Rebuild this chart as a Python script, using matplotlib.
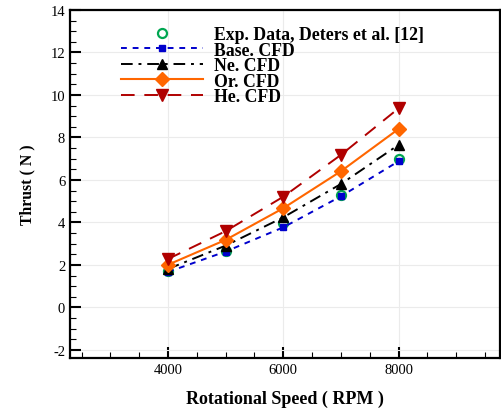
import numpy as np
import matplotlib
matplotlib.use('Agg')
import matplotlib.pyplot as plt
from matplotlib.ticker import MultipleLocator

rpm = [4000, 5000, 6000, 7000, 8000]
exp_data = [1.70, 2.65, 3.96, 5.31, 6.99]
base_cfd = [1.67, 2.63, 3.77, 5.23, 6.88]
ne_cfd = [1.81, 2.91, 4.24, 5.81, 7.65]
or_cfd = [2.01, 3.18, 4.67, 6.41, 8.40]
he_cfd = [2.28, 3.59, 5.21, 7.18, 9.37]

plt.rcParams['font.family'] = 'Liberation Serif'
plt.rcParams['axes.unicode_minus'] = False

fig = plt.figure(figsize=(5.01, 4.10), dpi=100)
ax = fig.add_axes([70/501, 51/410, 430/501, 348/410])

ax.plot(rpm, exp_data, 'o', color='#00a651', mfc='none', mew=1.6, ms=6.5,
        label='Exp. Data, Deters et al. [12]', zorder=3)
ax.plot(rpm, base_cfd, color='#0000cc', ls=(0, (3, 3)), lw=1.4, marker='s', ms=4,
        label='Base. CFD', zorder=4)
ax.plot(rpm, ne_cfd, color='black', ls=(0, (6, 3, 1.5, 3)), lw=1.4, marker='^', ms=7,
        label='Ne. CFD', zorder=4)
ax.plot(rpm, or_cfd, color='#ff6600', ls='-', lw=1.5, marker='D', ms=7,
        label='Or. CFD', zorder=4)
ax.plot(rpm, he_cfd, color='#b00000', ls=(0, (7, 5)), lw=1.4, marker='v', ms=8,
        label='He. CFD', zorder=4)

ax.set_xlim(2300, 9760)
ax.set_ylim(-2.38, 14)
ax.xaxis.set_major_locator(MultipleLocator(2000))
ax.xaxis.set_minor_locator(MultipleLocator(500))
ax.yaxis.set_major_locator(MultipleLocator(2))
ax.yaxis.set_minor_locator(MultipleLocator(0.5))
ax.grid(True, which='major', color='#ebebeb', lw=0.8, zorder=0)
ax.tick_params(which='both', direction='in', top=False, right=False, labelsize=10.5)
ax.tick_params(which='major', length=8, width=1.5)
ax.tick_params(which='minor', length=4, width=0.8)
for s in ax.spines.values():
    s.set_linewidth(1.6)

ax.set_xlabel('Rotational Speed ( RPM )', fontsize=13, fontweight='bold', labelpad=10)
ax.set_ylabel('Thrust ( N )', fontsize=11.3, fontweight='bold', labelpad=11)

ax.legend(loc='upper left', bbox_to_anchor=(0.09, 0.99), frameon=False,
          prop={'weight': 'bold', 'size': 12.8}, handlelength=4.6, labelspacing=-0.08,
          handletextpad=0.65, borderpad=0.2)

fig.savefig('out.png', dpi=100)
